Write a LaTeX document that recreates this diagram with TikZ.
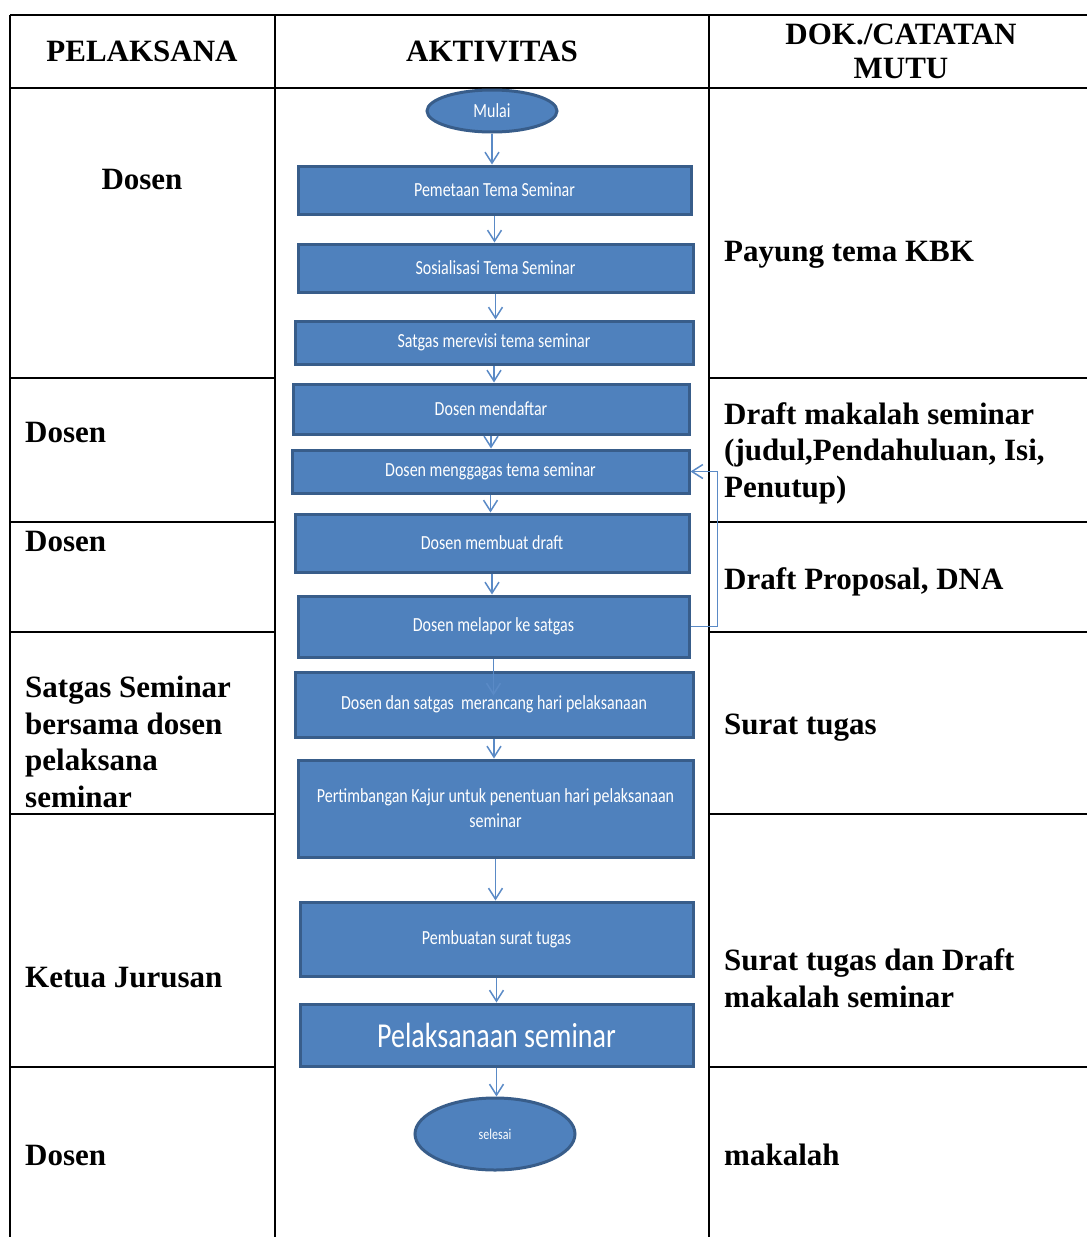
\documentclass[tikz,border=0pt]{standalone}
\usepackage{fontspec}
\setmainfont{Liberation Serif}
\newfontfamily\boxfont[FakeStretch=0.8]{Carlito}
\usetikzlibrary{shapes.geometric,arrows.meta}
\definecolor{boxfill}{HTML}{4F81BD}
\definecolor{boxline}{HTML}{385D8A}
\definecolor{arrowline}{HTML}{5A8AC6}
\tikzset{
	tabline/.style = {line width = 2.8pt, black},
	tabtext/.style = {font = \bfseries\fontsize{31}{36.5}\selectfont, inner sep = 0pt},
	lefttext/.style = {tabtext, anchor = west, align = left},
	stepbox/.style = {draw = boxline, line width = 3pt, fill = boxfill, text = white,
		font = \boxfont\fontsize{20}{25}\selectfont, align = center, inner sep = 0pt},
	endbox/.style = {stepbox, ellipse},
	flow/.style = {arrowline, line width = 1.5pt, -{Straight Barb[length = 11pt, width = 14pt]}}
}
\begin{document}
\begin{tikzpicture}[x = 1pt, y = -1pt]
	\useasboundingbox (0, 0) rectangle (1087, 1237);
	
	%	table
	\draw[tabline] (10, 15) -- (1087, 15);
	\draw[tabline] (10, 88) -- (1087, 88);
	\foreach \x in {10, 275, 709}
		\draw[tabline] (\x, 15) -- (\x, 1237);
	\foreach \y in {378, 522, 632, 814, 1067}{
		\draw[tabline] (10, \y) -- (275, \y);
		\draw[tabline] (709, \y) -- (1087, \y);
	}
	
	%	headers
	\node[tabtext] (hpelaksana) at (142, 51) {PELAKSANA};
	\node[tabtext] (haktivitas) at (492, 51) {AKTIVITAS};
	\node[tabtext, align = center, font = \bfseries\fontsize{31}{34}\selectfont] (hdokumen) at (901, 51) {DOK./CATATAN\\MUTU};
	
	%	pelaksana
	\node[tabtext] (pel1) at (142, 179) {Dosen};
	\node[lefttext] (pel2) at (25, 432) {Dosen};
	\node[lefttext] (pel3) at (25, 541) {Dosen};
	\node[lefttext] (pel4) at (25, 742) {Satgas Seminar\\bersama dosen\\pelaksana\\seminar};
	\node[lefttext] (pel5) at (25, 978) {Ketua Jurusan};
	\node[lefttext] (pel6) at (25, 1155) {Dosen};
	
	%	dokumen
	\node[lefttext] (dok1) at (724, 255) {Payung tema KBK};
	\node[lefttext] (dok2) at (724, 453) {Draft makalah seminar\\(judul,Pendahuluan, Isi,\\Penutup)};
	\node[lefttext] (dok3) at (724, 582) {Draft Proposal, DNA};
	\node[lefttext] (dok4) at (724, 728) {Surat tugas};
	\node[lefttext] (dok5) at (724, 978) {Surat tugas dan Draft\\makalah seminar};
	\node[lefttext] (dok6) at (724, 1155) {makalah};
	
	%	aktivitas
	\node[endbox, minimum width = 130pt, minimum height = 42pt] (mulai) at (492, 111) {Mulai};
	\node[stepbox, minimum width = 393pt, minimum height = 48pt] (pemetaan) at (494.5, 190) {Pemetaan Tema Seminar};
	\node[stepbox, minimum width = 395pt, minimum height = 48pt] (sosialisasi) at (495.5, 268) {Sosialisasi Tema Seminar};
	\node[stepbox, minimum width = 398pt, minimum height = 43pt] (revisi) at (494, 342.5) {Satgas merevisi tema seminar};
	\node[stepbox, minimum width = 396pt, minimum height = 50pt] (daftar) at (491, 409) {Dosen mendaftar};
	\node[stepbox, minimum width = 397pt, minimum height = 43pt] (gagas) at (490.5, 471.5) {Dosen menggagas tema seminar};
	\node[stepbox, minimum width = 394pt, minimum height = 58pt] (draft) at (492, 543) {Dosen membuat draft};
	\node[stepbox, minimum width = 391pt, minimum height = 61pt] (lapor) at (493.5, 626.5) {Dosen melapor ke satgas};
	\node[stepbox, minimum width = 398pt, minimum height = 65pt] (rancang) at (494, 704.5) {Dosen dan satgas\ \ merancang hari pelaksanaan};
	\node[stepbox, minimum width = 395pt, minimum height = 97pt] (kajur) at (495.5, 808.5) {Pertimbangan Kajur untuk penentuan hari pelaksanaan\\seminar};
	\node[stepbox, minimum width = 393pt, minimum height = 74pt] (surat) at (496.5, 939) {Pembuatan surat tugas};
	\node[stepbox, minimum width = 393pt, minimum height = 62pt, font = \boxfont\fontsize{35}{40}\selectfont] (seminar) at (496.5, 1035) {Pelaksanaan seminar};
	\node[endbox, minimum width = 160pt, minimum height = 72pt, font = \boxfont\fontsize{15}{17}\selectfont] (selesai) at (495, 1134) {selesai};
	
	%	alur
	\foreach \a/\b in {mulai/pemetaan, pemetaan/sosialisasi, sosialisasi/revisi, revisi/daftar,
		daftar/gagas, gagas/draft, draft/lapor, rancang/kajur, kajur/surat, surat/seminar, seminar/selesai}
		\draw[flow] (\a.south) -- (\a.south |- \b.north);
	\draw[flow] (lapor.south) -- ([yshift = -25pt]lapor.south |- rancang.north);
	
	%	balik
	\draw[flow] (lapor.east) -- ++(27, 0) |- (gagas.east);
\end{tikzpicture}
\end{document}
